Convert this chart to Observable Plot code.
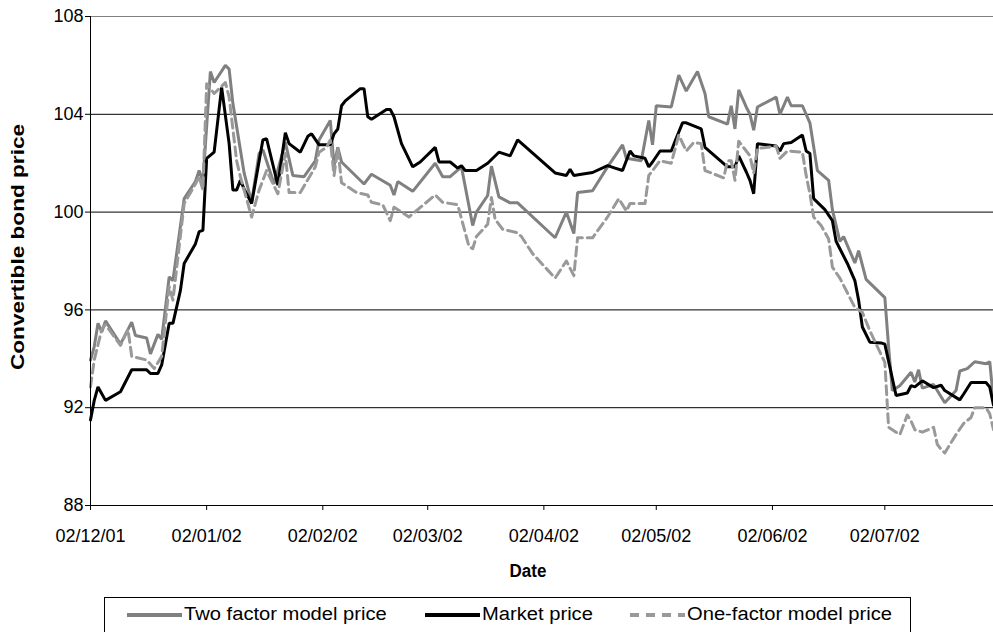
<!DOCTYPE html>
<html>
<head>
<meta charset="utf-8">
<script src="https://cdn.jsdelivr.net/npm/d3@7"></script>
<script src="https://cdn.jsdelivr.net/npm/@observablehq/plot@0.6"></script>
<style>
  html, body { margin: 0; padding: 0; background: #fff; }
  body { font-family: "Liberation Sans", Arial, sans-serif; width: 993px; height: 632px; position: relative; overflow: hidden; }
  #chart { position: absolute; left: 0; top: 0; }
  #legend { position: absolute; left: 104px; top: 597px; width: 807px; height: 40px; border: 1px solid #000; box-sizing: border-box; background: #fff; }
  .item { position: absolute; top: 6px; display: flex; align-items: center; font-size: 18px; color: #000; white-space: nowrap; }
  .item svg { margin-right: 2px; }
  .item span { display: inline-block; transform: scaleX(1.12); transform-origin: left center; }
</style>
</head>
<body>
<div id="chart"></div>
<div id="legend"></div>
<script>
// ---------- data ----------
const seriesNames = ["Two factor model price", "Market price", "One-factor model price"];

const twoFactorDates = ["2001-12-02","2001-12-03","2001-12-04","2001-12-05","2001-12-06","2001-12-10","2001-12-13","2001-12-14","2001-12-17","2001-12-18","2001-12-20","2001-12-21","2001-12-23","2001-12-24","2001-12-27","2001-12-30","2001-12-31","2002-01-01","2002-01-03","2002-01-04","2002-01-07","2002-01-08","2002-01-09","2002-01-11","2002-01-12","2002-01-14","2002-01-16","2002-01-17","2002-01-20","2002-01-23","2002-01-25","2002-01-28","2002-01-31","2002-02-01","2002-02-04","2002-02-05","2002-02-06","2002-02-07","2002-02-13","2002-02-15","2002-02-20","2002-02-21","2002-02-22","2002-02-26","2002-03-04","2002-03-06","2002-03-08","2002-03-11","2002-03-14","2002-03-15","2002-03-18","2002-03-19","2002-03-21","2002-03-24","2002-03-26","2002-04-05","2002-04-08","2002-04-10","2002-04-11","2002-04-15","2002-04-19","2002-04-23","2002-04-24","2002-04-28","2002-04-30","2002-05-01","2002-05-02","2002-05-06","2002-05-08","2002-05-10","2002-05-13","2002-05-15","2002-05-16","2002-05-21","2002-05-22","2002-05-23","2002-05-24","2002-05-26","2002-05-27","2002-05-28","2002-05-29","2002-06-03","2002-06-04","2002-06-06","2002-06-07","2002-06-10","2002-06-12","2002-06-14","2002-06-17","2002-06-18","2002-06-20","2002-06-21","2002-06-24","2002-06-25","2002-06-27","2002-07-02","2002-07-03","2002-07-04","2002-07-06","2002-07-09","2002-07-10","2002-07-11","2002-07-12","2002-07-15","2002-07-18","2002-07-21","2002-07-22","2002-07-24","2002-07-26","2002-07-29","2002-07-30","2002-07-31"];
const twoFactorPrice = [93.95,94.5,95.45,95.1,95.55,94.6,95.5,94.95,94.85,94.2,95.0,94.8,97.35,97.2,100.55,101.25,101.7,101.25,105.75,105.3,106.0,105.85,104.45,102.55,101.6,100.4,102.4,102.55,101.15,102.85,101.5,101.45,102.1,102.95,103.75,101.9,102.65,102.05,101.15,101.55,101.1,100.7,101.25,100.85,102.0,101.45,101.45,101.85,99.45,100.0,100.68,101.88,100.62,100.38,100.38,98.95,100.0,99.12,100.8,100.87,101.85,102.75,102.2,102.1,103.75,102.75,104.35,104.3,105.6,104.95,105.75,104.85,103.9,103.6,104.35,103.4,105.0,104.3,104.0,103.35,104.3,104.7,104.0,104.7,104.35,104.35,103.65,101.7,101.3,100.1,98.8,99.0,97.92,98.42,97.25,96.5,94.5,92.7,92.9,93.45,93.05,93.55,92.8,92.95,92.2,92.7,93.5,93.6,93.88,93.8,93.88,92.3];

const marketDates = ["2001-12-02","2001-12-03","2001-12-04","2001-12-06","2001-12-10","2001-12-13","2001-12-17","2001-12-18","2001-12-20","2001-12-21","2001-12-23","2001-12-24","2001-12-26","2001-12-27","2001-12-30","2001-12-31","2002-01-01","2002-01-02","2002-01-04","2002-01-06","2002-01-08","2002-01-09","2002-01-10","2002-01-11","2002-01-12","2002-01-14","2002-01-17","2002-01-18","2002-01-21","2002-01-23","2002-01-24","2002-01-27","2002-01-29","2002-01-30","2002-02-01","2002-02-04","2002-02-05","2002-02-06","2002-02-07","2002-02-08","2002-02-12","2002-02-13","2002-02-14","2002-02-15","2002-02-19","2002-02-20","2002-02-21","2002-02-23","2002-02-26","2002-02-28","2002-03-04","2002-03-05","2002-03-08","2002-03-10","2002-03-11","2002-03-12","2002-03-15","2002-03-18","2002-03-21","2002-03-24","2002-03-26","2002-04-05","2002-04-08","2002-04-09","2002-04-10","2002-04-12","2002-04-15","2002-04-19","2002-04-21","2002-04-23","2002-04-25","2002-04-26","2002-04-29","2002-04-30","2002-05-01","2002-05-03","2002-05-06","2002-05-07","2002-05-09","2002-05-10","2002-05-14","2002-05-15","2002-05-18","2002-05-21","2002-05-23","2002-05-24","2002-05-26","2002-05-27","2002-05-28","2002-05-29","2002-06-03","2002-06-04","2002-06-05","2002-06-07","2002-06-10","2002-06-11","2002-06-12","2002-06-13","2002-06-16","2002-06-18","2002-06-19","2002-06-20","2002-06-22","2002-06-24","2002-06-25","2002-06-26","2002-06-28","2002-07-01","2002-07-02","2002-07-05","2002-07-08","2002-07-09","2002-07-10","2002-07-12","2002-07-15","2002-07-17","2002-07-18","2002-07-22","2002-07-23","2002-07-25","2002-07-29","2002-07-30","2002-07-31"];
const marketPrice = [91.5,92.3,92.85,92.3,92.65,93.55,93.55,93.4,93.4,93.75,95.45,95.45,96.8,97.9,98.7,99.2,99.25,102.2,102.45,105.1,102.8,100.9,100.9,101.3,100.95,100.35,102.95,103.0,101.1,103.25,102.8,102.45,103.1,103.2,102.75,102.75,103.2,103.4,104.35,104.55,105.05,105.05,103.9,103.8,104.2,104.2,103.9,102.8,101.85,102.05,102.65,102.05,102.05,101.8,101.9,101.7,101.7,102.0,102.45,102.3,102.95,101.6,101.5,101.75,101.5,101.55,101.62,101.9,101.8,101.7,102.5,102.3,102.2,101.85,102.05,102.5,102.5,102.9,103.65,103.65,103.4,102.65,102.25,101.85,101.85,102.3,101.65,101.3,100.75,102.8,102.7,102.5,102.8,102.85,103.15,102.5,102.4,100.55,100.1,99.65,98.8,98.5,97.9,97.2,96.4,95.3,94.68,94.65,94.6,92.5,92.6,92.9,92.85,93.1,92.82,92.92,92.7,92.32,92.55,93.03,93.03,92.85,92.1];

const oneFactorDates = ["2001-12-02","2001-12-03","2001-12-05","2001-12-06","2001-12-10","2001-12-12","2001-12-13","2001-12-17","2001-12-19","2001-12-21","2001-12-23","2001-12-24","2001-12-27","2001-12-30","2001-12-31","2002-01-01","2002-01-02","2002-01-04","2002-01-07","2002-01-08","2002-01-10","2002-01-11","2002-01-14","2002-01-16","2002-01-18","2002-01-21","2002-01-23","2002-01-24","2002-01-27","2002-01-31","2002-02-01","2002-02-03","2002-02-04","2002-02-05","2002-02-06","2002-02-07","2002-02-11","2002-02-14","2002-02-15","2002-02-18","2002-02-20","2002-02-21","2002-02-25","2002-03-04","2002-03-06","2002-03-10","2002-03-13","2002-03-14","2002-03-15","2002-03-18","2002-03-19","2002-03-20","2002-03-22","2002-03-26","2002-03-27","2002-03-30","2002-04-05","2002-04-08","2002-04-10","2002-04-11","2002-04-15","2002-04-19","2002-04-22","2002-04-24","2002-04-25","2002-04-29","2002-04-30","2002-05-01","2002-05-03","2002-05-06","2002-05-08","2002-05-10","2002-05-12","2002-05-14","2002-05-15","2002-05-20","2002-05-21","2002-05-22","2002-05-23","2002-05-24","2002-05-27","2002-05-28","2002-05-29","2002-06-03","2002-06-04","2002-06-06","2002-06-10","2002-06-11","2002-06-12","2002-06-13","2002-06-15","2002-06-17","2002-06-18","2002-06-20","2002-06-22","2002-06-24","2002-06-26","2002-06-28","2002-06-30","2002-07-02","2002-07-03","2002-07-05","2002-07-06","2002-07-08","2002-07-09","2002-07-10","2002-07-12","2002-07-15","2002-07-16","2002-07-17","2002-07-18","2002-07-21","2002-07-23","2002-07-25","2002-07-26","2002-07-29","2002-07-30","2002-07-31"];
const oneFactorPrice = [92.85,93.95,95.2,95.4,94.55,95.2,94.1,93.95,93.6,94.1,96.95,96.4,100.35,101.15,101.45,100.9,105.25,104.85,105.3,104.7,102.1,101.45,99.8,100.9,101.7,100.75,102.4,100.8,100.8,101.85,102.45,102.65,102.95,101.5,102.6,101.2,100.8,100.7,100.4,100.3,99.65,100.2,99.8,100.7,100.4,100.3,98.6,98.5,99.0,99.5,100.6,99.7,99.3,99.15,99.0,98.3,97.3,98.0,97.4,98.95,98.95,99.8,100.55,100.05,100.35,100.35,101.5,101.7,102.1,102.0,103.15,102.5,102.85,102.8,101.7,101.4,102.1,102.1,101.3,102.9,102.3,101.6,102.6,102.7,102.2,102.5,102.45,101.5,100.75,99.8,99.45,98.9,97.75,97.3,96.7,96.1,95.9,95.15,94.5,93.85,91.2,91.0,90.9,91.7,91.45,91.1,91.0,91.2,90.5,90.3,90.15,90.9,91.35,91.6,92.0,92.0,91.75,91.1];

const xDomain = ["2001-12-02", "2002-07-31"];
const xTickDates = ["2001-12-02","2002-01-02","2002-02-02","2002-03-02","2002-04-02","2002-05-02","2002-06-02","2002-07-02"];
const yTicks = [88, 92, 96, 100, 104, 108];
const yGrid = [92, 96, 100, 104];
const xTitle = "Date";
const yTitle = "Convertible bond price";

// ---------- build ----------
const parse = d3.utcParse("%Y-%m-%d");
const rows = (name, dates, values) => dates.map((d, i) => ({ series: name, date: parse(d), value: values[i] }));
const twoFactor = rows(seriesNames[0], twoFactorDates, twoFactorPrice);
const market = rows(seriesNames[1], marketDates, marketPrice);
const oneFactor = rows(seriesNames[2], oneFactorDates, oneFactorPrice);

const colors = { two: "#808080", market: "#000000", one: "#999999" };
const dash = "9,5";

const chart = Plot.plot({
  width: 993,
  height: 585,
  marginLeft: 90,
  marginRight: 0,
  marginTop: 16,
  marginBottom: 80,
  style: { fontFamily: "'Liberation Sans', Arial, sans-serif", fontSize: "18px", color: "#000", background: "#fff", overflow: "visible" },
  x: { type: "utc", domain: xDomain.map(parse) },
  y: { domain: [yTicks[0], yTicks[yTicks.length - 1]] },
  marks: [
    Plot.ruleY(yGrid, { stroke: "#000", strokeWidth: 1 }),
    Plot.ruleY([yTicks[yTicks.length - 1]], { stroke: "#808080", strokeWidth: 1 }),
    Plot.line(twoFactor, { x: "date", y: "value", stroke: colors.two, strokeWidth: 3, strokeLinejoin: "miter" }),
    Plot.line(market, { x: "date", y: "value", stroke: colors.market, strokeWidth: 3, strokeLinejoin: "miter" }),
    Plot.line(oneFactor, { x: "date", y: "value", stroke: colors.one, strokeWidth: 3, strokeDasharray: dash }),
    Plot.ruleX([parse(xDomain[0])], { stroke: "#000", strokeWidth: 1 }),
    Plot.ruleY([yTicks[0]], { stroke: "#000", strokeWidth: 1 }),
    Plot.axisX({ ticks: xTickDates.map(parse), tickFormat: d3.utcFormat("%d/%m/%y"), tickSize: 5, tickPadding: 19, label: null }),
    Plot.axisY({ ticks: yTicks, tickFormat: d => String(d), tickSize: 5, tickPadding: 2, label: null })
  ]
});
document.getElementById("chart").appendChild(chart);

// axis titles
const svg = d3.select(chart);
svg.append("text")
  .attr("transform", "translate(528,577) scale(1,1.12)")
  .attr("text-anchor", "middle")
  .attr("font-weight", "bold").attr("font-size", 17)
  .attr("fill", "#000")
  .text(xTitle);
svg.append("text")
  .attr("transform", "translate(24,247) rotate(-90) scale(1.33,1.05)")
  .attr("text-anchor", "middle")
  .attr("font-weight", "bold").attr("font-size", 17)
  .attr("fill", "#000")
  .text(yTitle);

// legend
const legendItems = [
  { label: seriesNames[0], color: colors.two, dash: null, left: 22 },
  { label: seriesNames[1], color: colors.market, dash: null, left: 320 },
  { label: seriesNames[2], color: colors.one, dash: "9,7", left: 525 }
];
const legend = d3.select("#legend");
for (const it of legendItems) {
  const item = legend.append("div").attr("class", "item").style("left", it.left + "px");
  const s = item.append("svg").attr("width", 55).attr("height", 20);
  s.append("line").attr("x1", 0).attr("x2", 55).attr("y1", 10).attr("y2", 10)
    .attr("stroke", it.color).attr("stroke-width", 4)
    .attr("stroke-dasharray", it.dash);
  item.append("span").text(it.label);
}
</script>
</body>
</html>
